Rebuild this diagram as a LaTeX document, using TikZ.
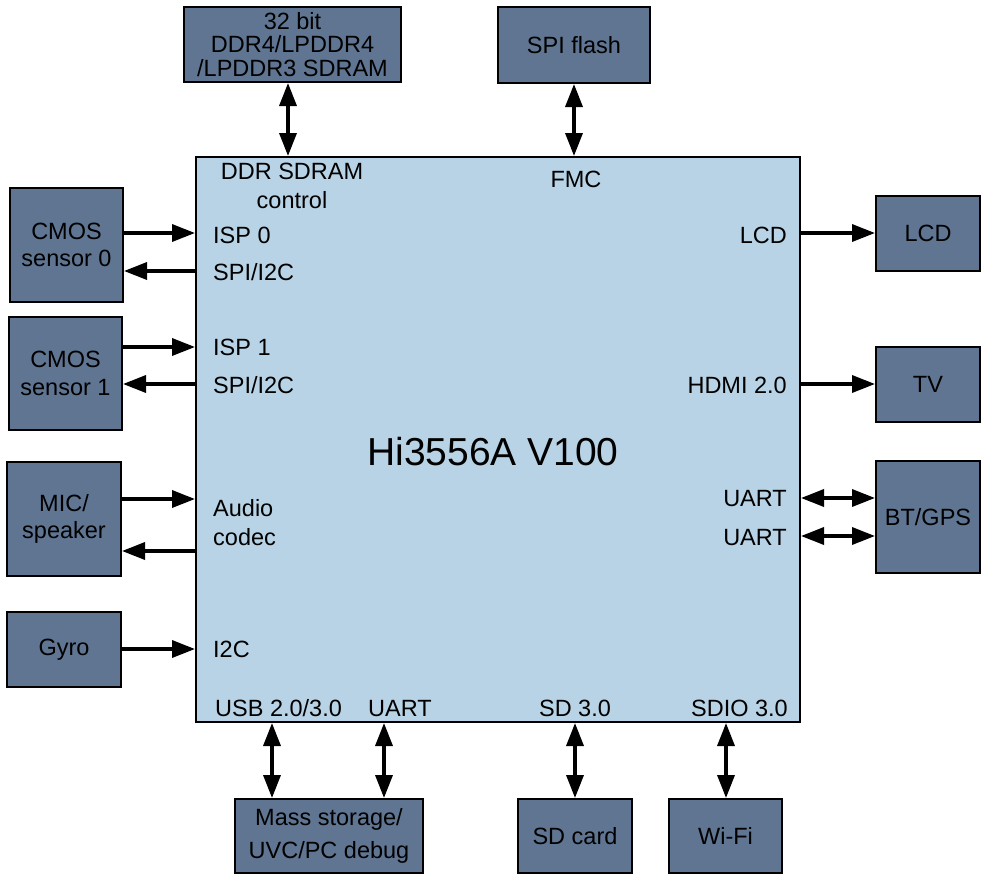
\documentclass[tikz,border=0pt]{standalone}
\usepackage{fontspec}
\setmainfont{Liberation Sans}
\usetikzlibrary{arrows.meta}
\definecolor{periph}{HTML}{5F7592}
\definecolor{chipfill}{HTML}{B8D3E5}
\tikzset{
  pbox/.style={draw=black, line width=2pt, fill=periph, inner sep=0pt, align=center,
    font=\fontsize{23.5}{27.5}\selectfont},
  lab/.style={inner sep=0pt, font=\fontsize{23.5}{29}\selectfont},
  conn/.style={line width=3.5pt, -{Triangle[length=23pt,width=17pt]}},
  bconn/.style={line width=3.5pt, {Triangle[length=23pt,width=17pt]}-{Triangle[length=23pt,width=17pt]}},
}
\begin{document}
\begin{tikzpicture}[x=1pt,y=-1pt]
\useasboundingbox (0,0) rectangle (982,875);
% main chip
\node[draw=black, line width=2pt, fill=chipfill, minimum width=604pt, minimum height=565pt, inner sep=0pt] (chip) at (498,439.5) {};
\node[inner sep=0pt, font=\fontsize{39}{44}\selectfont] (chipname) at (493,452) {Hi3556A V100};
% peripherals
\node[pbox, minimum width=217pt, minimum height=75pt, font=\fontsize{23.5}{23.5}\selectfont] (ddr) at (292.5,44.5) {32 bit\\DDR4/LPDDR4\\/LPDDR3 SDRAM};
\node[pbox, minimum width=152pt, minimum height=76pt] (spi) at (574,45) {SPI flash};
\node[pbox, minimum width=113pt, minimum height=114pt] (cmos0) at (66.5,245) {CMOS\\sensor 0};
\node[pbox, minimum width=113pt, minimum height=113pt] (cmos1) at (65.5,373.5) {CMOS\\sensor 1};
\node[pbox, minimum width=114pt, minimum height=114pt, font=\fontsize{23.5}{27}\selectfont] (mic) at (64,519) {MIC/\\speaker};
\node[pbox, minimum width=114pt, minimum height=75pt] (gyro) at (64,649.5) {Gyro};
\node[pbox, minimum width=104pt, minimum height=75pt] (lcd) at (928,233.5) {LCD};
\node[pbox, minimum width=104pt, minimum height=75pt] (tv) at (928,384.5) {TV};
\node[pbox, minimum width=104pt, minimum height=112pt] (bt) at (928,517) {BT/GPS};
\node[pbox, minimum width=188pt, minimum height=74pt, font=\fontsize{23.5}{33}\selectfont] (mass) at (329,836) {Mass storage/\\UVC/PC debug};
\node[pbox, minimum width=114pt, minimum height=74pt] (sdcard) at (575,836) {SD card};
\node[pbox, minimum width=113pt, minimum height=74pt] (wifi) at (725.5,836) {Wi-Fi};
% chip labels
\node[lab, anchor=base] (ddrc1) at (292,179) {DDR SDRAM};
\node[lab, anchor=base] (ddrc2) at (292,208) {control};
\node[lab, anchor=base] (fmc) at (576,187) {FMC};
\node[lab, anchor=base west] (isp0) at (213,243) {ISP 0};
\node[lab, anchor=base west] (spii0) at (213,280) {SPI/I2C};
\node[lab, anchor=base west] (isp1) at (213,355) {ISP 1};
\node[lab, anchor=base west] (spii1) at (213,393) {SPI/I2C};
\node[lab, anchor=base west] (audio) at (213,516) {Audio};
\node[lab, anchor=base west] (codec) at (213,545) {codec};
\node[lab, anchor=base west] (i2c) at (213,657) {I2C};
\node[lab, anchor=base east] (lcdl) at (787,243) {LCD};
\node[lab, anchor=base east] (hdmi) at (787,393) {HDMI 2.0};
\node[lab, anchor=base east] (uart1) at (787,506) {UART};
\node[lab, anchor=base east] (uart2) at (787,545) {UART};
\node[lab, anchor=base west] (usb) at (215,716) {USB 2.0/3.0};
\node[lab, anchor=base west] (uartb) at (368,716) {UART};
\node[lab, anchor=base] (sd30) at (575,716) {SD 3.0};
\node[lab, anchor=base east] (sdio) at (788,716) {SDIO 3.0};
% connector rows/columns
\coordinate (yisp0) at (0,233);
\coordinate (yspi0) at (0,271);
\coordinate (yisp1) at (0,347);
\coordinate (yspi1) at (0,384);
\coordinate (ymic) at (0,499);
\coordinate (yspk) at (0,551);
\coordinate (ygyro) at (0,649);
\coordinate (ylcd) at (0,233);
\coordinate (ytv) at (0,384);
\coordinate (yu1) at (0,498);
\coordinate (yu2) at (0,536);
\coordinate (xddr) at (288,0);
\coordinate (xspi) at (574,0);
\coordinate (xusb) at (272,0);
\coordinate (xuart) at (384,0);
\coordinate (xsd) at (575,0);
\coordinate (xwifi) at (726,0);
% connectors
\draw[conn] (cmos0.east |- yisp0) -- (chip.west |- yisp0);
\draw[conn] (chip.west |- yspi0) -- (cmos0.east |- yspi0);
\draw[conn] (cmos1.east |- yisp1) -- (chip.west |- yisp1);
\draw[conn] (chip.west |- yspi1) -- (cmos1.east |- yspi1);
\draw[conn] (mic.east |- ymic) -- (chip.west |- ymic);
\draw[conn] (chip.west |- yspk) -- (mic.east |- yspk);
\draw[conn] (gyro.east |- ygyro) -- (chip.west |- ygyro);
\draw[conn] (chip.east |- ylcd) -- (lcd.west |- ylcd);
\draw[conn] (chip.east |- ytv) -- (tv.west |- ytv);
\draw[bconn] (chip.east |- yu1) -- (bt.west |- yu1);
\draw[bconn] (chip.east |- yu2) -- (bt.west |- yu2);
\draw[bconn] (xddr |- ddr.south) -- (xddr |- chip.north);
\draw[bconn] (xspi |- spi.south) -- (xspi |- chip.north);
\draw[bconn] (xusb |- chip.south) -- (xusb |- mass.north);
\draw[bconn] (xuart |- chip.south) -- (xuart |- mass.north);
\draw[bconn] (xsd |- chip.south) -- (xsd |- sdcard.north);
\draw[bconn] (xwifi |- chip.south) -- (xwifi |- wifi.north);
\end{tikzpicture}
\end{document}
